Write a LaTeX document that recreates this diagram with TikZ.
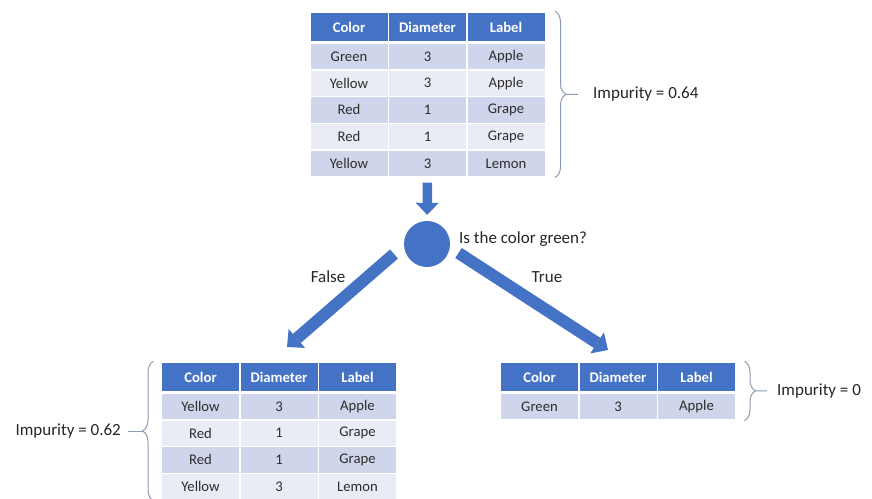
\documentclass[tikz,border=0pt]{standalone}
\usepackage{fontspec}
\setmainfont{Carlito}
\usetikzlibrary{positioning,arrows.meta,decorations.pathreplacing}

\definecolor{office}{RGB}{68,114,196}
\definecolor{rowdark}{RGB}{207,213,234}
\definecolor{rowlight}{RGB}{233,235,245}
\definecolor{bracegray}{RGB}{140,155,178}
\definecolor{celltext}{RGB}{45,45,45}

\begin{document}
\begin{tikzpicture}[x=1pt,y=-1pt,on grid,node distance=26.75pt and 78.5pt,
    cell/.style={rectangle,draw=white,line width=1.5pt,inner sep=0pt,minimum width=78.5pt,
      minimum height=26.75pt,font=\fontsize{14.7}{17}\selectfont,text=celltext},
    head/.style={cell,fill=office,minimum height=30pt,text=white,font=\fontsize{14.7}{17}\selectfont\bfseries},
    rowA/.style={cell,fill=rowdark},
    rowB/.style={cell,fill=rowlight},
    bigarrow/.style={draw=office,line width=12pt,-{Triangle[width=25pt,length=13pt,line width=0pt]}},
    downarrow/.style={draw=office,line width=9.5pt,-{Triangle[width=23pt,length=12pt,line width=0pt]}},
    curly/.style={draw=bracegray,line width=1pt,decorate,decoration={brace,amplitude=11pt}},
    tick/.style={draw=bracegray,line width=1pt},
    txt/.style={inner sep=0pt,font=\fontsize{17}{20}\selectfont,text=black!85}]
  \useasboundingbox (0,0) rectangle (872,498);

  % parent table
  \node[head] (t_h1) at (349,27) {Color};
  \node[head] (t_h2) [right=of t_h1] {Diameter};
  \node[head] (t_h3) [right=of t_h2] {Label};
  \node[rowA] (t_c1) [below=29.4pt of t_h1] {Green};
  \node[rowA] (t_d1) [right=of t_c1] {3};
  \node[rowA] (t_l1) [right=of t_d1] {Apple};
  \node[rowB] (t_c2) [below=of t_c1] {Yellow};
  \node[rowB] (t_d2) [right=of t_c2] {3};
  \node[rowB] (t_l2) [right=of t_d2] {Apple};
  \node[rowA] (t_c3) [below=of t_c2] {Red};
  \node[rowA] (t_d3) [right=of t_c3] {1};
  \node[rowA] (t_l3) [right=of t_d3] {Grape};
  \node[rowB] (t_c4) [below=of t_c3] {Red};
  \node[rowB] (t_d4) [right=of t_c4] {1};
  \node[rowB] (t_l4) [right=of t_d4] {Grape};
  \node[rowA] (t_c5) [below=of t_c4] {Yellow};
  \node[rowA] (t_d5) [right=of t_c5] {3};
  \node[rowA] (t_l5) [right=of t_d5] {Lemon};

  % false branch
  \node[head] (l_h1) at (200.5,377) {Color};
  \node[head] (l_h2) [right=of l_h1] {Diameter};
  \node[head] (l_h3) [right=of l_h2] {Label};
  \node[rowA] (l_c1) [below=29.4pt of l_h1] {Yellow};
  \node[rowA] (l_d1) [right=of l_c1] {3};
  \node[rowA] (l_l1) [right=of l_d1] {Apple};
  \node[rowB] (l_c2) [below=of l_c1] {Red};
  \node[rowB] (l_d2) [right=of l_c2] {1};
  \node[rowB] (l_l2) [right=of l_d2] {Grape};
  \node[rowA] (l_c3) [below=of l_c2] {Red};
  \node[rowA] (l_d3) [right=of l_c3] {1};
  \node[rowA] (l_l3) [right=of l_d3] {Grape};
  \node[rowB] (l_c4) [below=of l_c3] {Yellow};
  \node[rowB] (l_d4) [right=of l_c4] {3};
  \node[rowB] (l_l4) [right=of l_d4] {Lemon};

  % true branch
  \node[head] (r_h1) at (539.5,377) {Color};
  \node[head] (r_h2) [right=of r_h1] {Diameter};
  \node[head] (r_h3) [right=of r_h2] {Label};
  \node[rowA] (r_c1) [below=29.4pt of r_h1] {Green};
  \node[rowA] (r_d1) [right=of r_c1] {3};
  \node[rowA] (r_l1) [right=of r_d1] {Apple};

  % question
  \node[circle,fill=office,minimum size=46pt,inner sep=0pt] (q) at (427,244) {};
  \node[txt,anchor=west] (q_text) at (459,239) {Is the color green?};
  \node[txt] (l_false) at (328,277) {False};
  \node[txt] (l_true) at (547,277) {True};

  \coordinate (f_start) at (394,254);
  \coordinate (f_tip) at (287,347);
  \coordinate (t_start) at (458.5,253);
  \coordinate (t_tip) at (608,350);

  \draw[downarrow,shorten <=5pt,shorten >=6pt] (t_d5) -- (q);
  \draw[bigarrow] (f_start) -- (f_tip);
  \draw[bigarrow] (t_start) -- (t_tip);

  % impurities
  \node[txt,anchor=west] (t_imp) at (593,94) {Impurity = 0.64};
  \node[txt,anchor=east] (l_imp) at (121,431) {Impurity = 0.62};
  \node[txt,anchor=west] (r_imp) at (777,391) {Impurity = 0};

  \draw[curly] ([xshift=9pt]t_h3.north east) -- ([xshift=9pt]t_l5.south east);
  \draw[curly] ([xshift=-7pt]l_c4.south west) -- ([xshift=-7pt]l_h1.north west);
  \draw[curly] ([xshift=8pt]r_h3.north east) -- ([xshift=8pt]r_l1.south east);

  \coordinate (t_brace) at (565.5,94.4);
  \coordinate (l_brace) at (143,431);
  \coordinate (r_brace) at (755.5,390.9);
  \draw[tick,shorten >=15pt] (t_brace) -- (t_imp);
  \draw[tick,shorten >=7pt] (l_brace) -- (l_imp);
  \draw[tick,shorten >=10pt] (r_brace) -- (r_imp);
\end{tikzpicture}
\end{document}
